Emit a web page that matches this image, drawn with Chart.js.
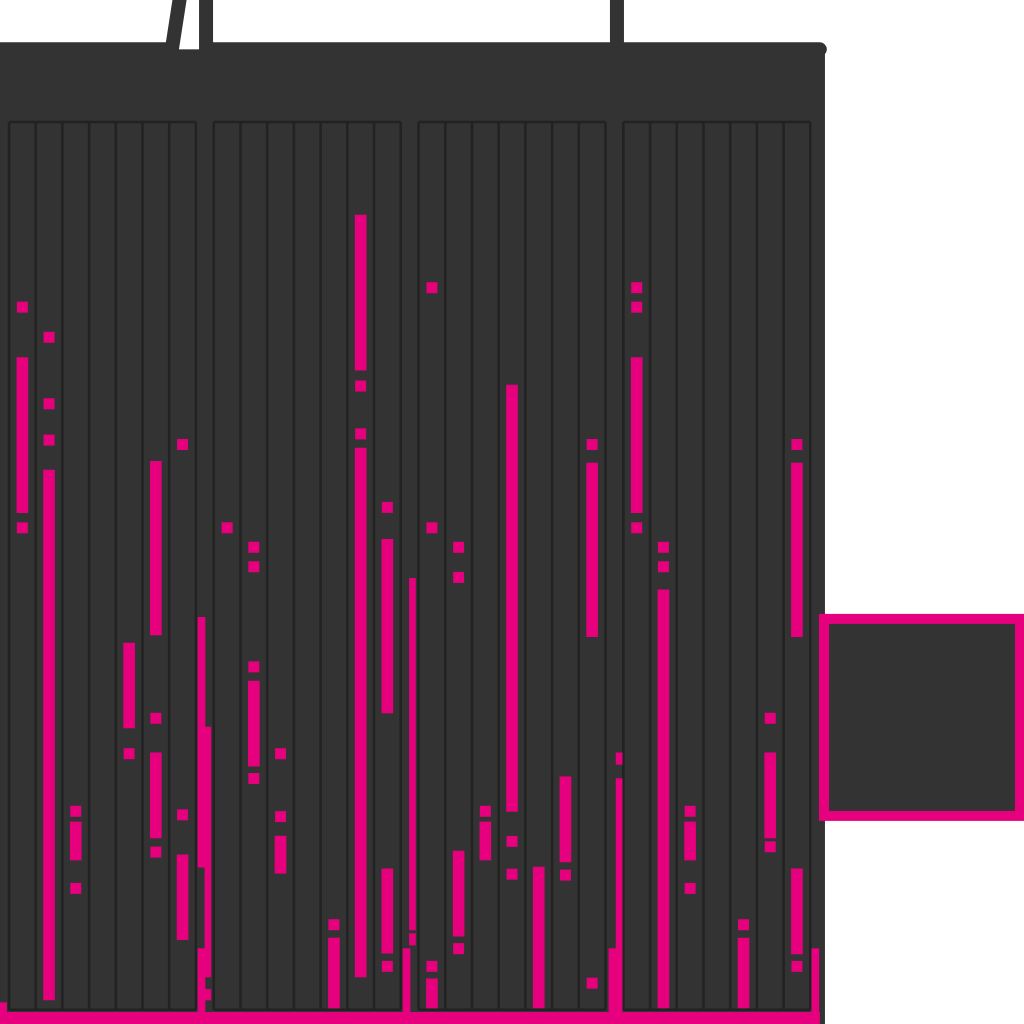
<!DOCTYPE html>
<html><head><meta charset="utf-8">
<script src="https://cdn.jsdelivr.net/npm/chart.js@4/dist/chart.umd.min.js"></script>
<style>html,body{margin:0;padding:0;background:#ffffff;}#wrap{width:1024px;height:1024px;}</style>
</head><body><div id="wrap"><canvas id="c" width="1024" height="1024"></canvas></div>
<script>
// ---------- DATA ----------
const panels = ['P1', 'P2', 'P3', 'P4'];
const columns = [0, 1, 2, 3, 4, 5, 6];
// floating ranges per panel: [column, low, high]
const p1Ranges = [[0,55.9,73.4],[1,0.9,60.7],[2,16.7,21.0],[4,31.6,41.2],[5,42.1,61.7],[5,19.2,28.8],[6,7.7,17.3]];
const p2Ranges = [[1,27.3,36.9],[2,15.2,19.4],[4,0,7.9],[5,72.0,89.5],[5,3.5,63.2],[6,33.3,52.9],[6,6.2,15.7]];
const p3Ranges = [[0,0,3.3],[1,8.1,17.7],[2,16.7,21.0],[3,22.2,70.3],[4,0,15.9],[5,16.5,26.1],[6,41.9,61.5]];
const p4Ranges = [[0,55.9,73.4],[1,0,47.2],[2,16.7,21.0],[4,0,7.9],[5,19.2,28.8],[6,41.9,61.5],[6,6.1,15.7]];
// single markers per panel: [column, value]
const p1Points = [[0,79.1],[0,54.2],[1,75.7],[1,68.2],[1,64.1],[2,22.2],[2,13.5],[4,28.7],[5,32.7],[5,17.6],[6,63.6],[6,21.8]];
const p2Points = [[0,54.2],[1,52.0],[1,49.8],[1,38.5],[1,25.9],[2,28.7],[2,21.6],[4,9.4],[5,70.2],[5,64.8],[6,56.5],[6,4.7]];
const p3Points = [[0,81.3],[0,54.2],[0,4.7],[1,52.0],[1,48.6],[1,6.7],[2,22.2],[3,18.8],[3,15.1],[5,15.0],[6,63.6],[6,2.8]];
const p4Points = [[0,81.3],[0,79.1],[0,54.2],[1,52.0],[1,49.8],[2,22.2],[2,13.5],[4,9.4],[5,32.7],[5,18.2],[6,63.6],[6,4.7]];
// thin edge bars between panels
const edgeAX = [-0.22, 7.21, 14.89, 22.60, 30.20];
const edgeARanges = [[0,-0.45,0.6],[1,15.9,44.1],[1,-0.45,6.7],[2,-0.45,6.7],[3,-0.45,6.7],[4,-0.45,6.7]];
const edgeBX = [7.45, 15.11, 22.85];
const edgeBRanges = [[0,3.5,31.7],[0,0.9,2.1],[1,8.8,48.5],[1,7.1,8.4],[2,27.5,28.8],[2,-0.45,25.9]];
// hanger line on top and base line
const hangerX = [-1.2, 6.10, 7.38, 7.38, 22.77, 22.77, 22.77, 30.37];
const hangerY = [108.2, 108.2, 133.1, 108.2, 108.2, 140, 108.2, 108.2];
const baseX = [-1, 30.37];
const baseY = [-1.13, -1.13];

// ---------- LAYOUT CONSTANTS ----------
const PANEL_STRIDE = 7.67;
const PINK = '#e6007e';
const DARK = '#333333';
const LINE = '#222222';

const allRanges = [p1Ranges, p2Ranges, p3Ranges, p4Ranges];
const allPoints = [p1Points, p2Points, p3Points, p4Points];
const xOf = (p, c) => p * PANEL_STRIDE + c + 0.5;

const rangeData = [];
allRanges.forEach((arr, p) => arr.forEach(([c, lo, hi]) => rangeData.push({x: xOf(p, c), y: [lo, hi]})));
const pointData = [];
allPoints.forEach((arr, p) => arr.forEach(([c, v]) => pointData.push({x: xOf(p, c), y: v})));
const edgeAData = edgeARanges.map(([i, lo, hi]) => ({x: edgeAX[i], y: [lo, hi]}));
const edgeBData = edgeBRanges.map(([i, lo, hi]) => ({x: edgeBX[i], y: [lo, hi]}));
const hangerData = hangerX.map((x, i) => ({x, y: hangerY[i]}));
const baseData = baseX.map((x, i) => ({x, y: baseY[i]}));

const backdrop = {
  id: 'backdrop',
  beforeDatasetsDraw(chart) {
    const {ctx, chartArea, scales: {x, y}} = chart;
    ctx.save();
    ctx.fillStyle = DARK;
    const right = x.getPixelForValue(30.56);
    const top = y.getPixelForValue(108.2);
    ctx.fillRect(0, top, right, chart.height - top);
    ctx.strokeStyle = LINE;
    ctx.lineWidth = 2.5;
    const yTop = y.getPixelForValue(100), yBot = y.getPixelForValue(-0.19);
    panels.forEach((_, p) => {
      for (let k = 0; k <= columns.length; k++) {
        const px = x.getPixelForValue(p * PANEL_STRIDE + k);
        ctx.beginPath(); ctx.moveTo(px, yTop); ctx.lineTo(px, yBot); ctx.stroke();
      }
      const l = x.getPixelForValue(p * PANEL_STRIDE), r = x.getPixelForValue(p * PANEL_STRIDE + columns.length);
      ctx.beginPath(); ctx.moveTo(l, yTop); ctx.lineTo(r, yTop); ctx.moveTo(l, yBot); ctx.lineTo(r, yBot); ctx.stroke();
    });
    ctx.restore();
  }
};
const keyBox = {
  id: 'keyBox',
  afterDraw(chart) {
    const {ctx, scales: {y}} = chart;
    const cy = y.getPixelForValue(32.8);
    ctx.save();
    ctx.fillStyle = DARK; ctx.strokeStyle = PINK; ctx.lineWidth = 10;
    ctx.fillRect(824, cy - 98.5, 196, 197);
    ctx.strokeRect(824, cy - 98.5, 196, 197);
    ctx.restore();
  }
};

new Chart(document.getElementById('c'), {
  type: 'bar',
  data: {
    datasets: [
      {type: 'line', data: hangerData, borderColor: DARK, borderWidth: 14, pointRadius: 0, fill: false,
       borderCapStyle: 'round', borderJoinStyle: 'miter', tension: 0, clip: false},
      {type: 'line', data: baseData, borderColor: PINK, borderWidth: 12, pointRadius: 0, fill: false,
       borderCapStyle: 'butt', tension: 0, clip: false},
      {type: 'scatter', data: pointData, pointStyle: 'rect', pointRadius: 7.78, pointHoverRadius: 7.78,
       backgroundColor: PINK, borderWidth: 0, pointBorderWidth: 0, clip: false},
      {data: rangeData, backgroundColor: PINK, borderWidth: 0, barThickness: 11, grouped: false, clip: false},
      {data: edgeAData, backgroundColor: PINK, borderWidth: 0, barThickness: 7, grouped: false, clip: false},
      {data: edgeBData, backgroundColor: PINK, borderWidth: 0, barThickness: 6, grouped: false, clip: false}
    ]
  },
  options: {
    responsive: false, animation: false, devicePixelRatio: 1,
    layout: {padding: 0, autoPadding: false},
    events: [],
    scales: {
      x: {type: 'linear', min: -9 / 26.7, max: 1015 / 26.7, display: false, offset: false},
      y: {type: 'linear', min: -16 / 8.86, max: 1008 / 8.86, display: false}
    },
    plugins: {legend: {display: false}, tooltip: {enabled: false}}
  },
  plugins: [backdrop, keyBox]
});
</script></body></html>
